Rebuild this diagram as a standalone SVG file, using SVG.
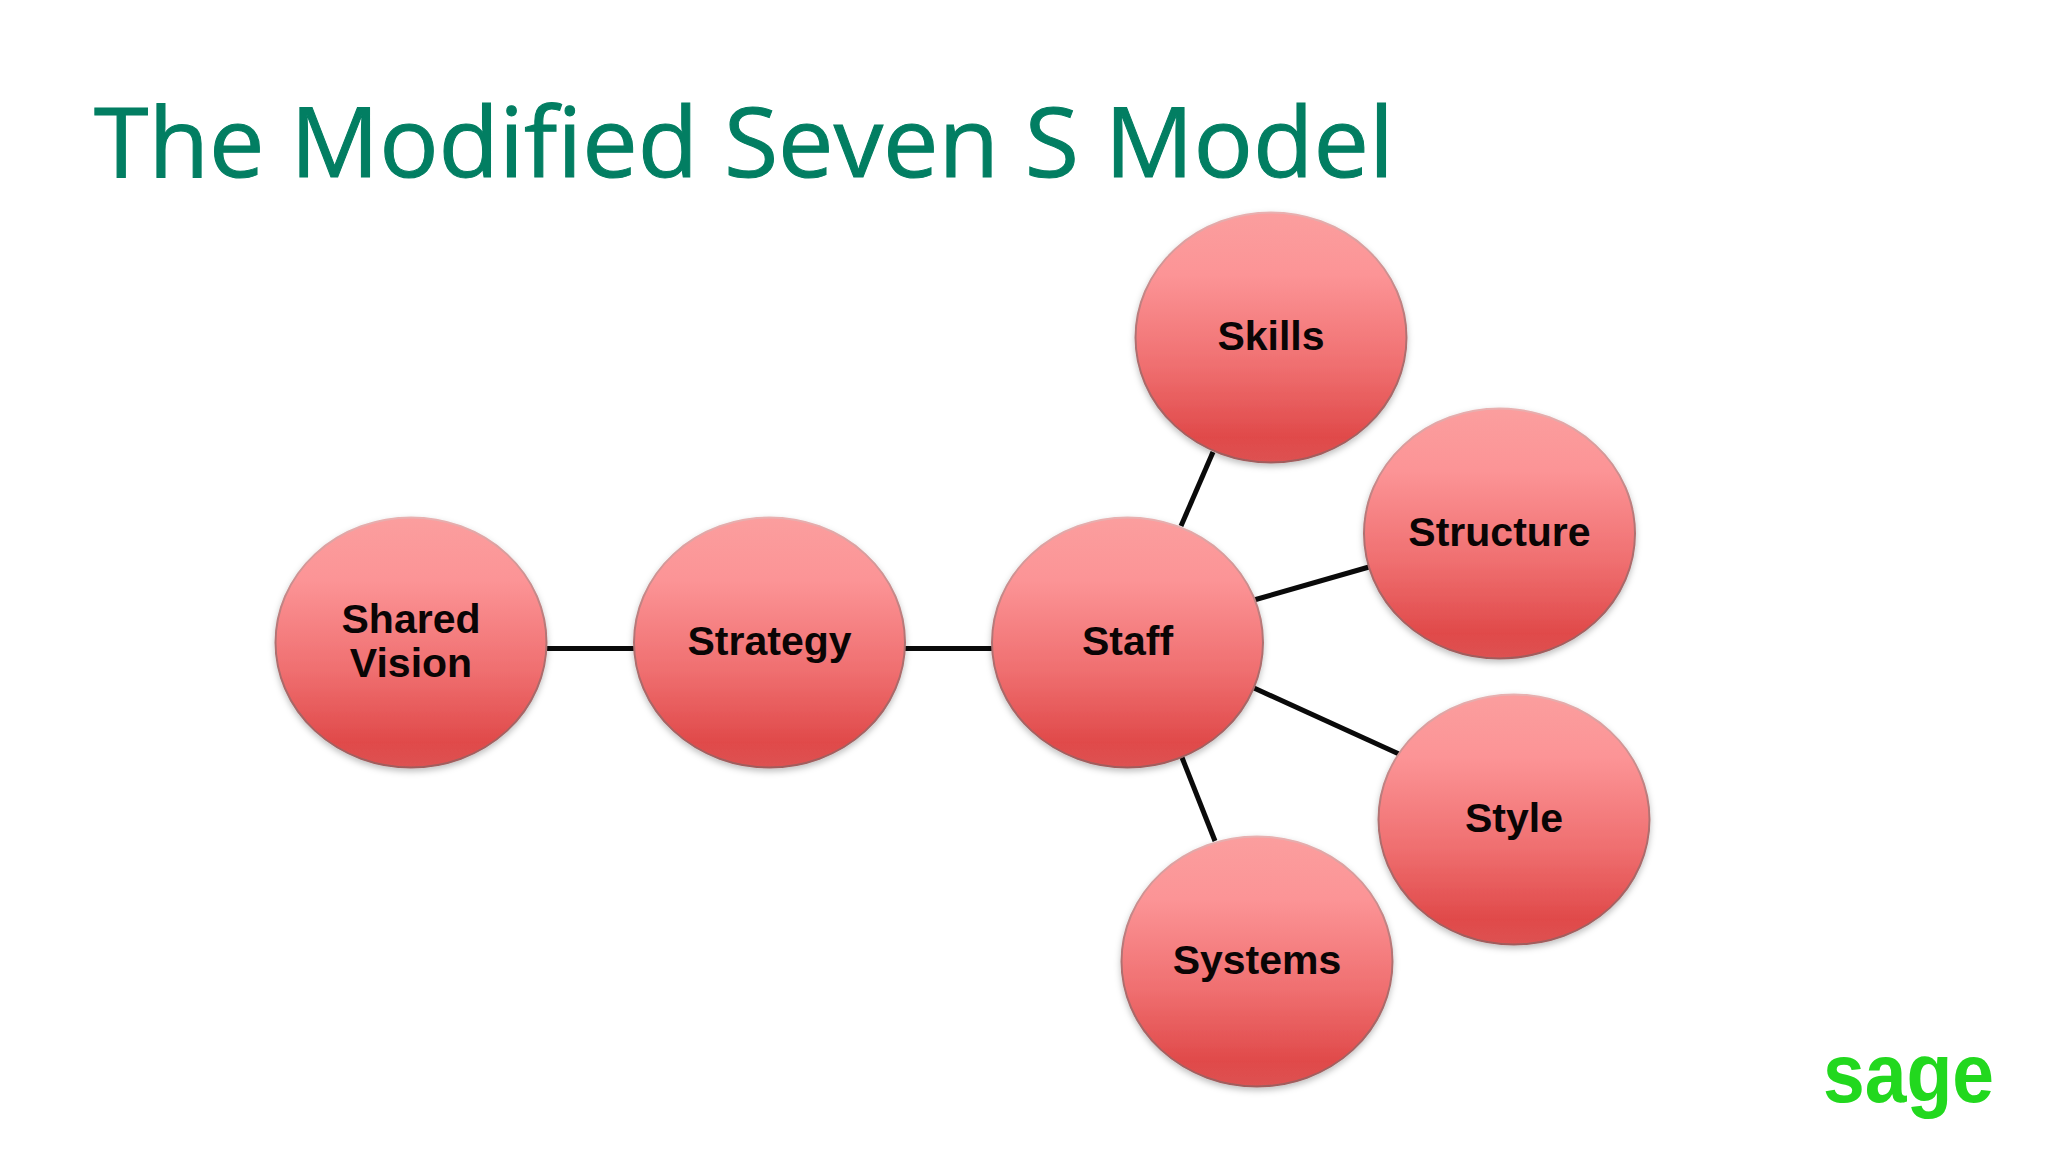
<svg xmlns="http://www.w3.org/2000/svg" width="2048" height="1152" viewBox="0 0 2048 1152">
<style>
.title{font-family:"Open Sans","Noto Sans",sans-serif;font-size:97px;fill:#027e62;stroke:#027e62;stroke-width:1}
.lbl{font-family:"Liberation Sans",Arial,sans-serif;font-weight:700;font-size:41px;fill:#0a0505;text-anchor:middle}
.logo{font-family:"Liberation Sans",Arial,sans-serif;font-weight:700;font-size:84px;fill:#22d81e}
.conn line{stroke:#0a0a0a;stroke-width:5;fill:none}
.disc{fill:url(#ball);stroke:url(#rim);stroke-width:2;filter:url(#sh)}
</style>
<defs>
<linearGradient id="ball" x1="0" y1="0" x2="0" y2="1">
<stop offset="0" stop-color="#fb9e9e"/><stop offset="0.25" stop-color="#fc9496"/><stop offset="0.62" stop-color="#ef6e6f"/><stop offset="0.9" stop-color="#e04a4a"/><stop offset="1" stop-color="#dd5252"/>
</linearGradient>
<linearGradient id="rim" x1="0" y1="0" x2="0" y2="1">
<stop offset="0" stop-color="#e8b0b0"/><stop offset="0.5" stop-color="#b07070"/><stop offset="1" stop-color="#a05c5c"/>
</linearGradient>
<filter id="sh" x="-10%" y="-10%" width="120%" height="120%">
<feDropShadow dx="0" dy="3" stdDeviation="3" flood-color="#000" flood-opacity="0.25"/>
</filter>
</defs>
<rect width="2048" height="1152" fill="#fff"/>
<text id="title" class="title" x="94" y="177" textLength="1300" lengthAdjust="spacingAndGlyphs">The Modified Seven S Model</text>
<g id="connectors" class="conn">
<line x1="545" y1="648.500" x2="636" y2="648.500"/>
<line x1="903" y1="648.500" x2="994" y2="648.500"/>
<line x1="1181" y1="526" x2="1213" y2="452"/>
<line x1="1254" y1="600" x2="1369" y2="567"/>
<line x1="1254" y1="688" x2="1399" y2="754"/>
<line x1="1182" y1="757.500" x2="1215" y2="841"/>
</g>
<g id="shared-vision"><ellipse class="disc" cx="411" cy="642.500" rx="135.500" ry="125"/><text class="lbl" x="411" y="633">Shared</text><text class="lbl" x="411" y="677">Vision</text></g>
<g id="strategy"><ellipse class="disc" cx="769.500" cy="642.500" rx="135.500" ry="125"/><text class="lbl" x="769.500" y="655">Strategy</text></g>
<g id="staff"><ellipse class="disc" cx="1127.500" cy="642.500" rx="135.500" ry="125"/><text class="lbl" x="1127.500" y="655">Staff</text></g>
<g id="skills"><ellipse class="disc" cx="1271" cy="337.500" rx="135.500" ry="125"/><text class="lbl" x="1271" y="350">Skills</text></g>
<g id="structure"><ellipse class="disc" cx="1499.500" cy="533.500" rx="135.500" ry="125"/><text class="lbl" x="1499.500" y="546">Structure</text></g>
<g id="style"><ellipse class="disc" cx="1514" cy="819.500" rx="135.500" ry="125"/><text class="lbl" x="1514" y="832">Style</text></g>
<g id="systems"><ellipse class="disc" cx="1257" cy="961.500" rx="135.500" ry="125"/><text class="lbl" x="1257" y="974">Systems</text></g>
<text id="logo" class="logo" x="1823" y="1102" textLength="171" lengthAdjust="spacingAndGlyphs">sage</text>
</svg>
